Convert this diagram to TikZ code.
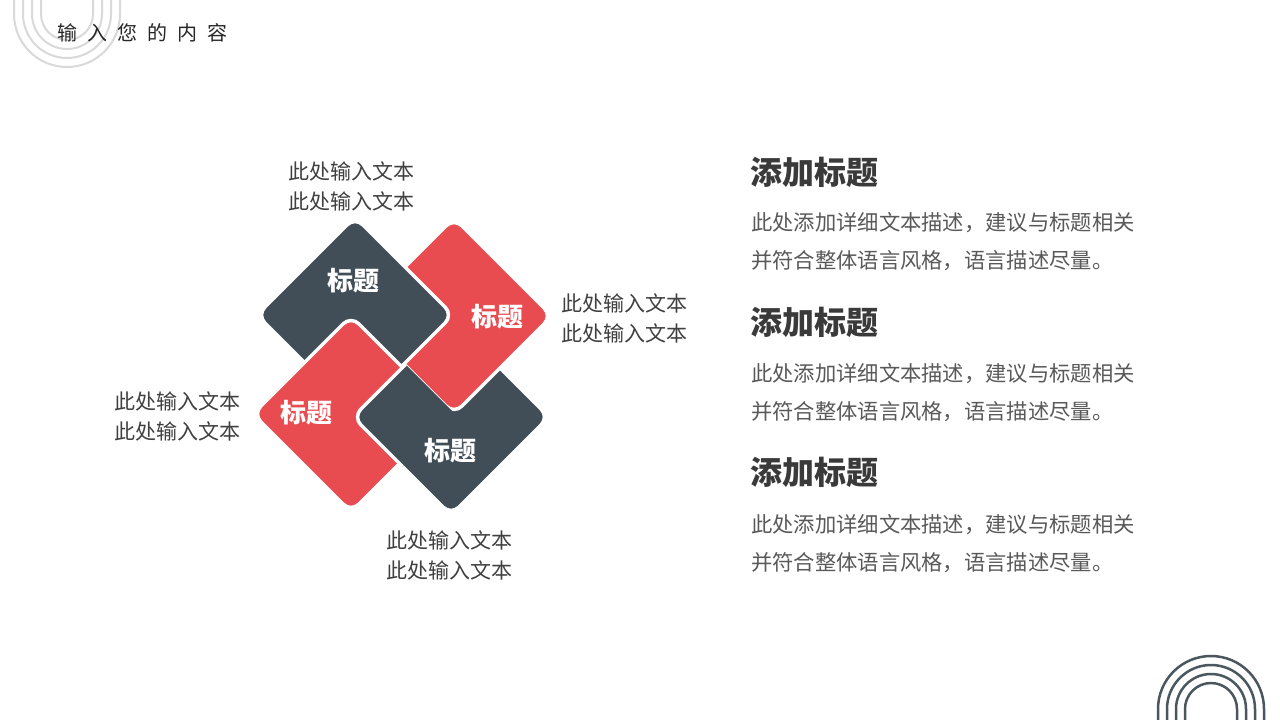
\documentclass[tikz,border=0pt]{standalone}
\usepackage{fontspec}
\newfontfamily\cjk{Noto Sans CJK SC}
\newfontfamily\cjkl[LetterSpace=50]{Noto Sans CJK SC}
\definecolor{slate}{HTML}{414E57}
\definecolor{redc}{HTML}{E84C51}
\definecolor{txt}{HTML}{404040}
\definecolor{body}{HTML}{595959}
\definecolor{head}{HTML}{3A3A3A}
\newcommand{\sqpath}[3]{(#1,#2-#3) -- (#1+#3,#2) -- (#1,#2+#3) -- (#1-#3,#2) -- cycle}
\begin{document}
\begin{tikzpicture}[x=1pt,y=-1pt,
  tile/.style={draw=white,line width=3.5pt,rounded corners=11pt},
  tlabel/.style={font=\cjk\bfseries\fontsize{26}{28}\selectfont,text=white,inner sep=0pt},
  side/.style={font=\cjk\fontsize{21}{30}\selectfont,text=txt,align=center,inner sep=0pt},
  hd/.style={font=\cjk\bfseries\fontsize{32}{36}\selectfont,text=head,anchor=west,inner sep=0pt},
  bd/.style={font=\cjk\fontsize{21.3}{24}\selectfont,text=body,anchor=west,inner sep=0pt},
  arcl/.style={line width=2pt}]
\useasboundingbox (0,0) rectangle (1280,720);
\fill[white] (0,0) rectangle (1280,720);
% corner arcs
\begin{scope}
\clip (0,0) rectangle (1280,720);
\foreach \r in {53,44,35,26}{
  \draw[arcl,draw=black!15] (67-\r,-5) -- (67-\r,14) arc[start angle=180,end angle=0,radius=\r] -- (67+\r,-5);
}
\foreach \r in {53,44,35,26}{
  \draw[line width=2.5pt,draw=slate!95] (1211-\r,725) -- (1211-\r,709) arc[start angle=180,end angle=360,radius=\r] -- (1211+\r,725);
}
\end{scope}
\node[font=\cjkl\fontsize{20}{22}\selectfont,text=black!85,anchor=west,inner sep=0pt] (title) at (57,33) {输入您的内容};
% tiles
\path[tile,fill=slate] \sqpath{451}{417}{98};
\path[tile,fill=redc] \sqpath{454}{316}{98};
\path[tile,fill=slate] \sqpath{355}{315}{98};
\path[tile,fill=redc] \sqpath{351}{414}{98};
\begin{scope}
\clip \sqpath{351}{414}{104};
\path[tile,fill=slate] \sqpath{451}{417}{98};
\end{scope}
\node[tlabel] (ta) at (353,281) {标题};
\node[tlabel] (tb) at (497,317) {标题};
\node[tlabel] (tc) at (306,413) {标题};
\node[tlabel] (td) at (450,451) {标题};
% side texts
\node[side] (s1) at (351,186) {此处输入文本\\此处输入文本};
\node[side] (s2) at (624,318) {此处输入文本\\此处输入文本};
\node[side] (s3) at (177,416) {此处输入文本\\此处输入文本};
\node[side] (s4) at (449,555) {此处输入文本\\此处输入文本};
% right panel
\node[hd] (h1) at (750,172) {添加标题};
\node[bd] (b1a) at (751,223) {此处添加详细文本描述，建议与标题相关};
\node[bd] (b1b) at (751,261) {并符合整体语言风格，语言描述尽量。};
\node[hd] (h2) at (750,322) {添加标题};
\node[bd] (b2a) at (751,374) {此处添加详细文本描述，建议与标题相关};
\node[bd] (b2b) at (751,412) {并符合整体语言风格，语言描述尽量。};
\node[hd] (h3) at (750,472) {添加标题};
\node[bd] (b3a) at (751,525) {此处添加详细文本描述，建议与标题相关};
\node[bd] (b3b) at (751,563) {并符合整体语言风格，语言描述尽量。};
\end{tikzpicture}
\end{document}
